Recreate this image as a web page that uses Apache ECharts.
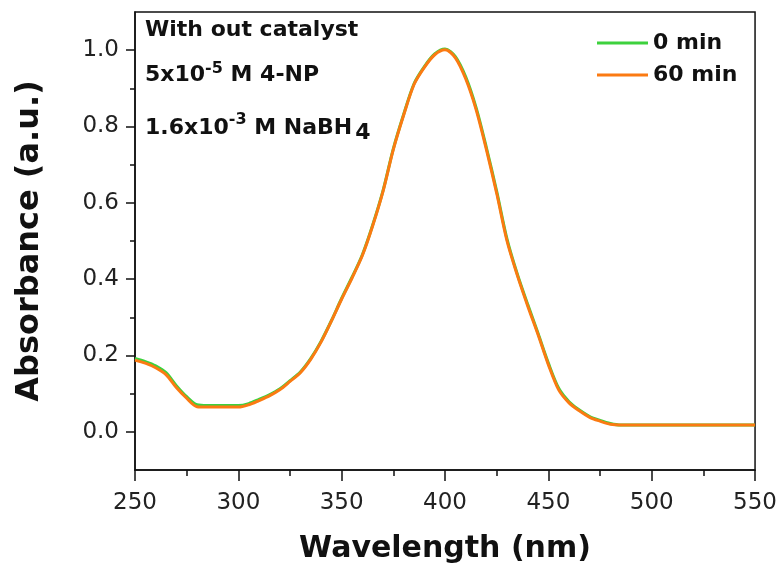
<!DOCTYPE html>
<html>
<head>
<meta charset="utf-8">
<script src="https://cdn.jsdelivr.net/npm/echarts@6/dist/echarts.min.js"></script>
<style>
  html, body { margin: 0; padding: 0; background: #fff; }
  #chart { width: 780px; height: 571px; }
</style>
</head>
<body>
<div id="chart"></div>
<script>
// wavelength in nm, absorbance
var wavelength = [250, 255, 260, 265, 270, 275, 280, 285, 290, 295, 300, 305, 310, 315, 320, 325, 330, 335, 340, 345,
                  350, 355, 360, 365, 370, 375, 380, 385, 390, 395, 400, 405, 410, 415, 420, 425, 430, 435, 440, 445,
                  450, 455, 460, 465, 470, 475, 480, 485, 490, 500, 510, 520, 530, 540, 550];
var abs0min  = [0.192, 0.184, 0.173, 0.155, 0.121, 0.092, 0.071, 0.069, 0.069, 0.069, 0.069, 0.074, 0.085, 0.097, 0.112, 0.134, 0.157, 0.192, 0.237, 0.291,
                0.350, 0.405, 0.464, 0.542, 0.632, 0.742, 0.832, 0.912, 0.957, 0.990, 1.003, 0.983, 0.930, 0.850, 0.745, 0.630, 0.505, 0.413, 0.334, 0.258,
                0.180, 0.114, 0.079, 0.057, 0.040, 0.030, 0.022, 0.018, 0.018, 0.018, 0.018, 0.018, 0.018, 0.018, 0.018];
var abs60min = [0.188, 0.180, 0.168, 0.150, 0.116, 0.088, 0.066, 0.065, 0.065, 0.065, 0.065, 0.071, 0.082, 0.094, 0.110, 0.132, 0.155, 0.190, 0.235, 0.290,
                0.348, 0.403, 0.462, 0.540, 0.630, 0.740, 0.830, 0.910, 0.955, 0.988, 1.001, 0.980, 0.925, 0.845, 0.740, 0.625, 0.500, 0.410, 0.330, 0.255,
                0.176, 0.110, 0.076, 0.055, 0.038, 0.028, 0.020, 0.018, 0.018, 0.018, 0.018, 0.018, 0.018, 0.018, 0.018];
var yLabelTicks = [0, 0.2, 0.4, 0.6, 0.8, 1.0];
var yMinorTicks = [0.1, 0.3, 0.5, 0.7, 0.9];

function pairs(xs, ys) {
    return xs.map(function (x, i) { return [x, ys[i]]; });
}

var chart = echarts.init(document.getElementById('chart'));
var font = 'DejaVu Sans, Liberation Sans, sans-serif';
var supStyle = { fontSize: 16, fontWeight: 'bold', fontFamily: font, fill: '#111', verticalAlign: 'top', padding: [0, 0, 12, 0] };

var option = {
    backgroundColor: '#fff',
    animation: false,
    grid: {
        left: 135, right: 24, top: 12, bottom: 101,
        show: true, borderColor: '#111', borderWidth: 1.5
    },
    legend: {
        data: ['0 min', '60 min'],
        orient: 'vertical',
        left: 592, top: 27,
        icon: 'rect', itemWidth: 51, itemHeight: 3,
        itemGap: 10,
        textStyle: { fontFamily: font, fontSize: 22, fontWeight: 'bold', color: '#111' }
    },
    xAxis: {
        type: 'value',
        min: 250, max: 550, interval: 50,
        name: 'Wavelength (nm)',
        nameLocation: 'middle',
        nameGap: 64,
        nameTextStyle: { fontFamily: font, fontSize: 30, fontWeight: 'bold', color: '#111' },
        axisLine: { onZero: false, lineStyle: { color: '#111', width: 1.5 } },
        axisTick: { inside: false, length: 11, lineStyle: { color: '#111', width: 1.5 } },
        minorTick: { show: true, splitNumber: 2, length: 6, lineStyle: { color: '#111', width: 1.5 } },
        axisLabel: { margin: 22, fontFamily: font, fontSize: 23, color: '#222' },
        splitLine: { show: false }
    },
    yAxis: [
        {
            type: 'value',
            min: -0.1, max: 1.1,
            name: 'Absorbance (a.u.)',
            nameLocation: 'middle',
            nameGap: 89,
            nameTextStyle: { fontFamily: font, fontSize: 32, fontWeight: 'bold', color: '#111' },
            axisLine: { onZero: false, lineStyle: { color: '#111', width: 1.5 } },
            axisTick: { customValues: yLabelTicks, length: 9, lineStyle: { color: '#111', width: 1.5 } },
            axisLabel: {
                customValues: yLabelTicks, margin: 16,
                fontFamily: font, fontSize: 23, color: '#222',
                formatter: function (v) { return v.toFixed(1); }
            },
            splitLine: { show: false }
        },
        {
            type: 'value',
            position: 'left',
            min: -0.1, max: 1.1,
            axisLine: { show: false },
            axisTick: { customValues: yMinorTicks, length: 5, lineStyle: { color: '#111', width: 1.5 } },
            axisLabel: { show: false },
            splitLine: { show: false }
        }
    ],
    graphic: [
        {
            type: 'text', left: 145, top: 19,
            style: { text: 'With out catalyst', fontFamily: font, fontSize: 22, fontWeight: 'bold', fill: '#111' }
        },
        {
            type: 'text', left: 145, top: 61,
            style: {
                text: '5x10{sup|-5} M 4-NP',
                fontFamily: font, fontSize: 22, fontWeight: 'bold', fill: '#111',
                rich: { sup: supStyle }
            }
        },
        {
            type: 'text', left: 145, top: 112,
            style: {
                text: '1.6x10{sup|-3} M NaBH{sub|4}',
                fontFamily: font, fontSize: 22, fontWeight: 'bold', fill: '#111',
                rich: {
                    sup: supStyle,
                    sub: { fontSize: 22, fontWeight: 'bold', fontFamily: font, fill: '#111', verticalAlign: 'bottom', padding: [10, 0, 0, 3] }
                }
            }
        }
    ],
    series: [
        {
            name: '0 min', type: 'line', showSymbol: false, smooth: 0.3,
            data: pairs(wavelength, abs0min),
            lineStyle: { color: '#3dd13d', width: 3 },
            itemStyle: { color: '#3dd13d' }
        },
        {
            name: '60 min', type: 'line', showSymbol: false, smooth: 0.3,
            data: pairs(wavelength, abs60min),
            lineStyle: { color: '#fb7a12', width: 3 },
            itemStyle: { color: '#fb7a12' }
        }
    ]
};
chart.setOption(option);
</script>
</body>
</html>
